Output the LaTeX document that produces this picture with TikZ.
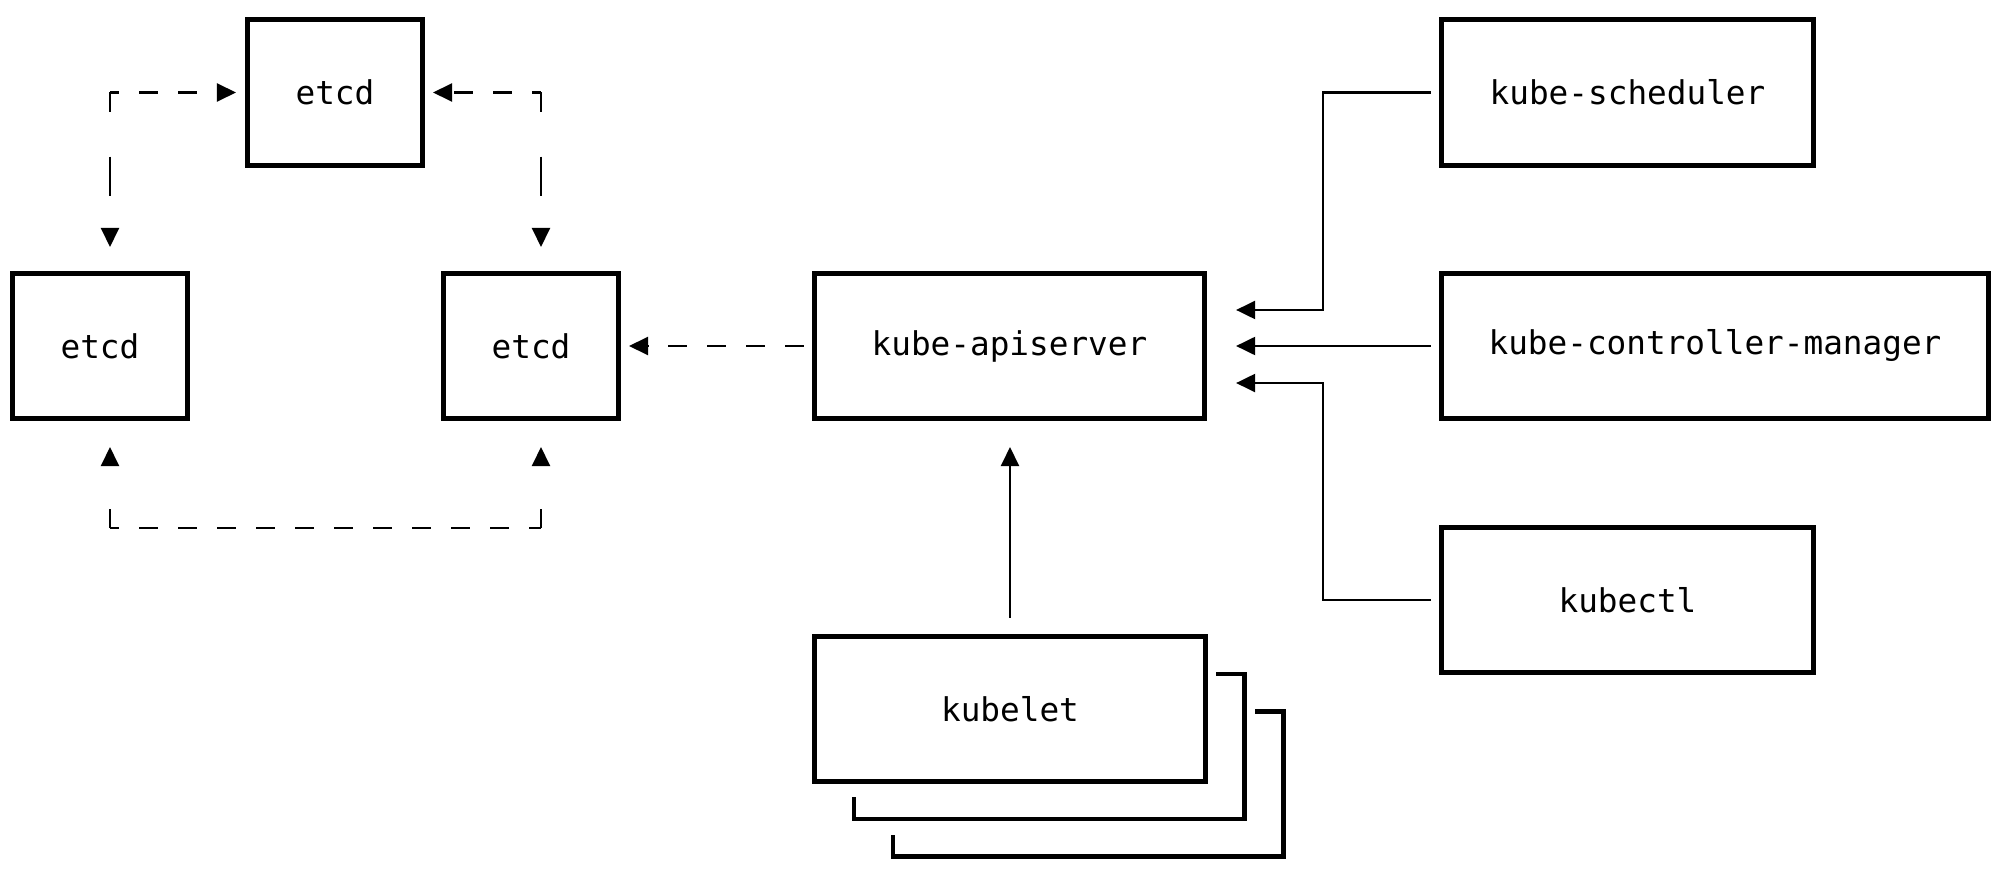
\documentclass[tikz,border=0pt]{standalone}
\usepackage{fontspec}
\setmonofont{DejaVu Sans Mono}
\usetikzlibrary{arrows.meta}

\begin{document}
\begin{tikzpicture}[x=0.01cm, y=-0.01cm,
	box/.style={draw, line width=1.4pt, minimum height=1.45cm, inner sep=0pt, font=\ttfamily\fontsize{9.3}{11}\selectfont},
	wire/.style={line width=0.6pt, -{Triangle[length=0.19cm, width=0.18cm]}},
	hdash/.style={wire, dash pattern=on 0.19cm off 0.2cm, dash phase=0.1cm},
	vdash/.style={wire, dash pattern=on 0.39cm off 0.45cm, dash phase=0.2cm}]

\useasboundingbox (0,0) rectangle (1999,876);

% etcd members
\node[box, minimum width=1.75cm] (etcdtop) at (335,92.5) {etcd};
\node[box, minimum width=1.75cm] (etcdleft) at (100,346) {etcd};
\node[box, minimum width=1.75cm] (etcdright) at (531,346) {etcd};

% control plane
\node[box, minimum width=3.9cm] (apiserver) at (1009.5,346) {kube-apiserver};
\node[box, minimum width=3.72cm] (scheduler) at (1627.5,92.5) {kube-scheduler};
\node[box, minimum width=5.47cm] (controller) at (1715,346) {kube-controller-manager};
\node[box, minimum width=3.72cm] (kubectl) at (1627.5,600) {kubectl};

% kubelet with the stacked copies behind it
\node[box, minimum width=3.91cm] (kubelet) at (1010,709) {kubelet};
\foreach \dx/\dy in {39/37.5, 78/75}
	\draw[line width=1.4pt, shift={(\dx,\dy)}] (1177,636.5) -| (1205.5,781.5) -| (815,759.5);

% ring between the etcd members
\coordinate (tl) at (110,92.5);
\coordinate (tr) at (541,92.5);
\coordinate (bl) at (110,528);
\coordinate (br) at (541,528);
\draw[hdash, shorten >=0.09cm] (tl) -- (tl -| etcdtop.west);
\draw[hdash, shorten >=0.08cm] (tr) -- (tr -| etcdtop.east);
\draw[vdash, shorten >=0.24cm] (tl) -- (tl |- etcdleft.north);
\draw[vdash, shorten >=0.24cm] (tr) -- (tr |- etcdright.north);
\draw[vdash, shorten >=0.26cm] (bl) -- (bl |- etcdleft.south);
\draw[vdash, shorten >=0.26cm] (br) -- (br |- etcdright.south);
\draw[hdash, -] (bl) -- (br);

% apiserver to etcd
\draw[hdash, dash phase=0cm, shorten <=0.08cm, shorten >=0.08cm] (apiserver.west) -- (etcdright.east);

% links into the apiserver
\coordinate (bus) at (1323,346);
\coordinate (apiup) at ([yshift=0.36cm]apiserver.east);
\coordinate (apidown) at ([yshift=-0.37cm]apiserver.east);
\draw[wire, shorten <=0.08cm, shorten >=0.29cm] (scheduler.west) -| (bus |- apiup) -- (apiup);
\draw[wire, shorten <=0.08cm, shorten >=0.29cm] (controller.west) -- (apiserver.east);
\draw[wire, shorten <=0.08cm, shorten >=0.29cm] (kubectl.west) -| (bus |- apidown) -- (apidown);
\draw[wire, shorten <=0.16cm, shorten >=0.26cm] (kubelet.north) -- (kubelet.north |- apiserver.south);

\end{tikzpicture}
\end{document}
